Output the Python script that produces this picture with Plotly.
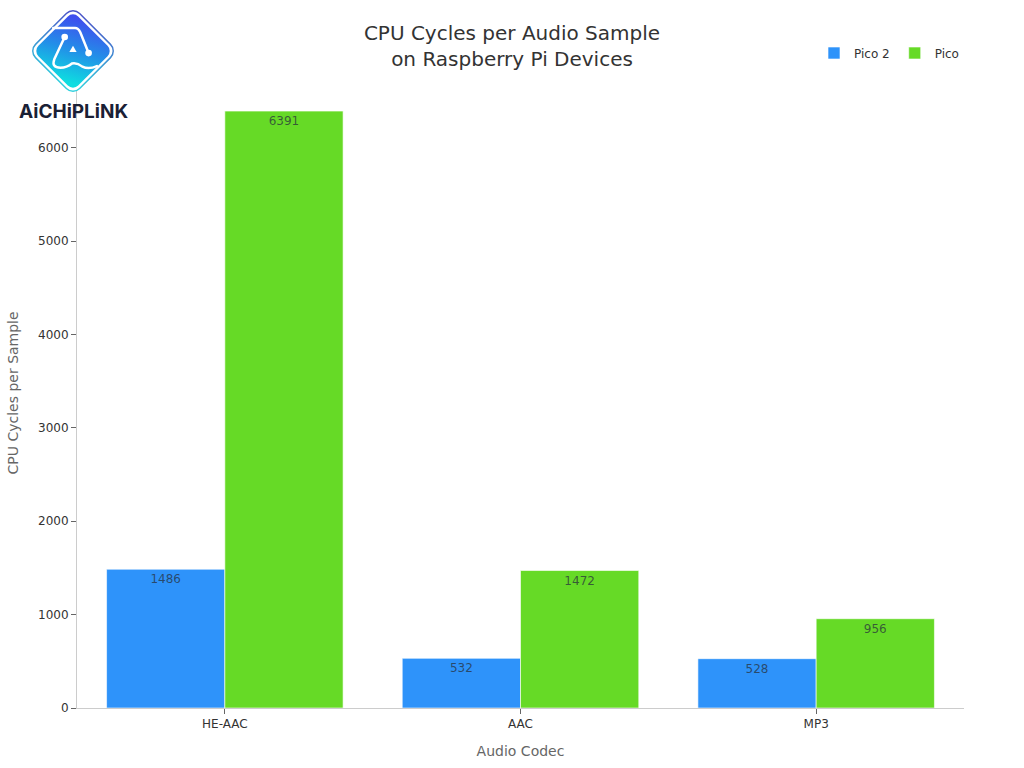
import base64
import plotly.graph_objects as go

codecs = ["HE-AAC", "AAC", "MP3"]
pico2_values = [1486, 532, 528]
pico_values = [6391, 1472, 956]

# page pixels
WIDTH = 1024
HEIGHT = 768
LEFT = 77
RIGHT = 964
TOP = 88
BOTTOM = 708
PX_PER_1000 = 93.4

LOGO_SVG = """<svg xmlns="http://www.w3.org/2000/svg" viewBox="0 0 100 100">
<defs>
<linearGradient id="g" x1="0.2" y1="0" x2="0.75" y2="1">
<stop offset="0" stop-color="#3f4fee"/><stop offset="0.5" stop-color="#2290e8"/><stop offset="1" stop-color="#0edde0"/>
</linearGradient>
<linearGradient id="s" x1="0.2" y1="0" x2="0.75" y2="1">
<stop offset="0" stop-color="#4a55c8"/><stop offset="1" stop-color="#2fd0de"/>
</linearGradient>
</defs>
<rect x="20" y="20" width="60" height="60" rx="9" transform="rotate(45 50 50)" fill="white" stroke="url(#s)" stroke-width="1.4"/>
<rect x="23" y="23" width="54" height="54" rx="7" transform="rotate(45 50 50)" fill="url(#g)"/>
<path d="M31 28 H52 Q55 28 57 32 L65 52 M42 36.5 L32 58 Q29 66 38 66 Q44 66 49 62 Q54 61 59 65 Q65 68 73 64.5" fill="none" stroke="white" stroke-width="2.4" stroke-linecap="round"/>
<circle cx="42" cy="36.5" r="3.2" fill="white"/>
<circle cx="65" cy="52" r="3.2" fill="white"/>
<path d="M50 45 L53.5 51 H46.5 Z" fill="white"/>
</svg>"""
logo_source = "data:image/svg+xml;base64," + base64.b64encode(LOGO_SVG.encode()).decode()


def paper_x(px):
    return (px - LEFT) / (RIGHT - LEFT)


def paper_y(py):
    return (BOTTOM - py) / (BOTTOM - TOP)


fig = go.Figure()
fig.add_trace(
    go.Bar(
        name="Pico 2",
        x=codecs,
        y=pico2_values,
        text=pico2_values,
        marker={"color": "#2e93fa", "line": {"color": "rgba(255,255,255,0.6)", "width": 1}},
    )
)
fig.add_trace(
    go.Bar(
        name="Pico",
        x=codecs,
        y=pico_values,
        text=pico_values,
        marker={"color": "#66da26", "line": {"color": "rgba(255,255,255,0.6)", "width": 1}},
    )
)
fig.update_traces(
    textposition="inside",
    insidetextanchor="end",
    textangle=0,
    textfont={"family": "DejaVu Sans", "size": 12, "color": "rgba(40,50,60,0.75)"},
    cliponaxis=False,
)
fig.update_layout(
    width=WIDTH,
    height=HEIGHT,
    margin={"l": LEFT, "r": WIDTH - RIGHT, "t": TOP, "b": HEIGHT - BOTTOM},
    paper_bgcolor="white",
    plot_bgcolor="white",
    font={"family": "DejaVu Sans", "size": 12, "color": "#333333"},
    barmode="group",
    bargap=0.2,
    bargroupgap=0,
    title={
        "text": "CPU Cycles per Audio Sample<br>on Raspberry Pi Devices",
        "x": 512 / WIDTH,
        "xanchor": "center",
        "y": 1 - 40 / HEIGHT,
        "yanchor": "middle",
        "font": {"family": "DejaVu Sans", "size": 20, "color": "#333333"},
    },
    legend={
        "orientation": "h",
        "x": paper_x(814),
        "xanchor": "left",
        "y": paper_y(53),
        "yanchor": "middle",
        "font": {"size": 12, "color": "#333333"},
        "itemclick": False,
    },
    xaxis={
        "title": {"text": "Audio Codec", "font": {"size": 14, "color": "#666666"}},
        "automargin": False,
        "showgrid": False,
        "showline": True,
        "linecolor": "#cccccc",
        "ticks": "outside",
        "ticklen": 5,
        "tickcolor": "#666666",
        "tickfont": {"size": 12, "color": "#333333"},
    },
    yaxis={
        "automargin": False,
        "range": [0, (BOTTOM - TOP) / PX_PER_1000 * 1000],
        "tickvals": [0, 1000, 2000, 3000, 4000, 5000, 6000],
        "showgrid": False,
        "zeroline": False,
        "showline": True,
        "linecolor": "#cccccc",
        "ticks": "outside",
        "ticklen": 5,
        "tickcolor": "#666666",
        "tickfont": {"size": 12, "color": "#333333"},
    },
    images=[
        {
            "source": logo_source,
            "xref": "paper",
            "yref": "paper",
            "x": paper_x(21),
            "y": paper_y(-1),
            "sizex": 104 / (RIGHT - LEFT),
            "sizey": 104 / (BOTTOM - TOP),
            "xanchor": "left",
            "yanchor": "top",
            "layer": "above",
        }
    ],
    annotations=[
        {
            "text": "<b>AiCHiPLiNK</b>",
            "xref": "paper",
            "yref": "paper",
            "x": paper_x(73),
            "y": paper_y(111),
            "xanchor": "center",
            "yanchor": "middle",
            "showarrow": False,
            "font": {"family": "Inter", "size": 19, "color": "#1a2035"},
        },
        {
            "text": "CPU Cycles per Sample",
            "xref": "paper",
            "yref": "paper",
            "x": paper_x(12),
            "y": paper_y(393.5),
            "xanchor": "center",
            "yanchor": "middle",
            "textangle": -90,
            "showarrow": False,
            "font": {"size": 14, "color": "#666666"},
        },
    ],
)

# drop the browser's default 8px body margin so the figure fills the window
fig.write_html(
    "out.html",
    config={"displayModeBar": False},
    post_script="document.body.style.margin = '0';",
)
